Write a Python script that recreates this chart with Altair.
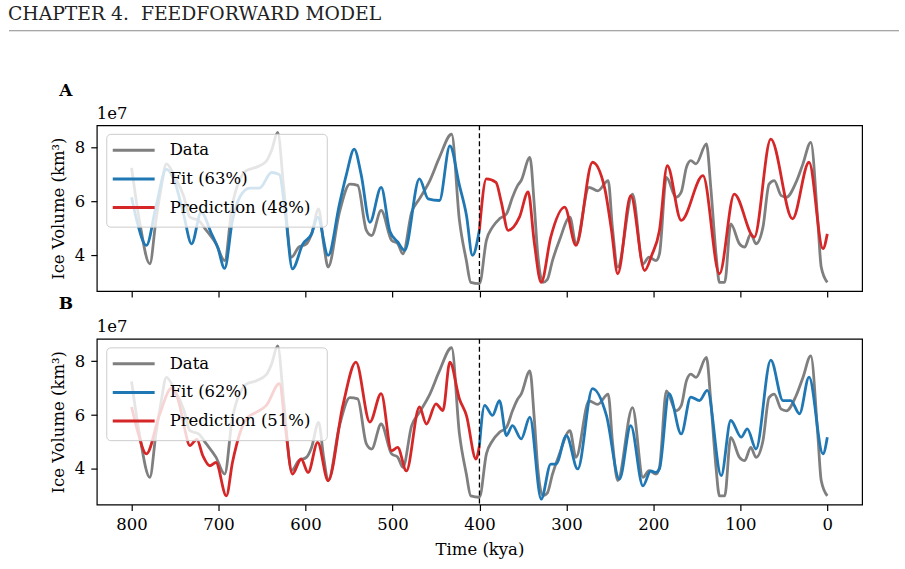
import altair as alt
import pandas as pd

# ---------------------------------------------------------------
# Ice volume record (units of 1e7 km^3) against time (kya)
# ---------------------------------------------------------------
data_t = [800, 791, 779, 772, 766, 760, 750, 740, 733, 723, 714, 703, 693,
          684, 668, 657, 645, 639, 632, 625, 616, 608, 599, 593, 585, 579,
          574, 561, 549, 540, 530, 524, 513, 501, 494, 488, 478, 469, 457,
          446, 432, 423, 415, 410, 400, 392, 385, 377, 369, 362, 356, 352,
          342, 337, 333, 327, 322, 316, 308, 296, 289, 274, 264, 252, 247,
          241, 224, 212, 205, 197, 193, 185, 174, 168, 162, 157, 151, 139,
          134, 128, 124, 118, 111, 101, 95, 88, 82, 74, 67, 61, 53, 47, 36,
          28, 19, 11, 7, 0]
data_v = [7.25, 5.3, 3.69, 5.3, 6.5, 7.4, 6.9, 6.2, 5.42, 5.3, 4.93, 4.44, 3.81,
          5.9, 7.15, 7.27, 7.5, 7.9, 8.57, 6.5, 3.94, 4.3, 4.43, 4.8, 5.73, 4.4,
          3.57, 5.6, 6.65, 6.6, 4.93, 4.74, 5.67, 4.56, 4.44, 4.06, 5.6, 6.1, 6.78,
          7.64, 8.5, 5.3, 3.8, 3.0, 2.95, 4.56, 5.05, 5.36, 5.54, 6.16, 6.6, 6.78,
          7.64, 5.9, 4.06, 3.0, 3.1, 3.81, 4.56, 5.42, 4.43, 6.53, 6.4, 6.78, 5.0,
          3.57, 6.28, 3.69, 3.94, 3.81, 4.06, 6.9, 6.16, 6.35, 7.27, 7.52, 7.4, 8.14,
          6.53, 4.06, 3.0, 3.0, 5.17, 4.43, 4.31, 4.8, 4.43, 5.05, 6.65, 6.78, 6.22, 6.16, 6.71,
          7.4, 8.2, 5.3, 3.57, 3.0]

# Panel A: model fitted on 800-400 kya, predicting 400-0 kya
fit_a_t = [800, 794, 783, 772, 760, 750, 740, 731, 720, 708, 701, 693, 684,
           675, 664, 653, 639, 630, 623, 615, 603, 593, 586, 574, 561, 553,
           544, 536, 526, 513, 503, 494, 486, 469, 459, 446, 434, 423, 415,
           408, 400]
fit_a_v = [6.16, 5.3, 4.37, 5.8, 7.2, 6.7, 5.5, 4.43, 5.6, 4.8, 4.3, 3.52, 5.3,
           6.2, 6.5, 6.5, 7.08, 7.0, 5.5, 3.5, 4.43, 4.8, 5.42, 4.0, 5.9, 7.0,
           7.95, 7.0, 5.23, 6.53, 4.9, 4.5, 4.19, 6.84, 6.1, 6.04, 8.07, 6.6, 5.5,
           4.0, 4.95]
pred_a_t = [400, 392, 381, 375, 367, 354, 344, 337, 329, 318, 302, 289, 270,
            256, 248, 241, 226, 210, 202, 193, 184, 168, 143, 124, 107, 84, 65,
            40, 21, 5, 0]
pred_a_v = [4.95, 6.84, 6.71, 6.0, 4.93, 5.42, 6.36, 4.5, 3.0, 4.68, 5.79, 4.37, 7.46,
            6.5, 4.9, 3.32, 6.22, 3.44, 4.0, 4.93, 7.33, 5.3, 6.96, 3.32, 6.28, 4.68, 8.32,
            5.36, 7.46, 4.25, 4.8]

# Panel B: model fitted on 400-0 kya, predicting 800-400 kya
pred_b_t = [800, 793, 783, 768, 754, 745, 739, 733, 725, 718, 710, 703, 691,
            684, 668, 657, 645, 630, 623, 615, 605, 597, 586, 574, 557, 542,
            526, 513, 501, 494, 484, 469, 461, 450, 442, 434, 423, 415, 404, 400]
pred_b_v = [6.3, 5.4, 4.56, 6.0, 7.0, 6.4, 5.5, 4.87, 5.1, 4.49, 4.12, 4.24, 3.0,
            4.24, 5.86, 6.1, 6.36, 7.17, 5.5, 3.81, 4.37, 3.87, 4.99, 3.56, 6.36, 7.97,
            5.74, 6.8, 4.68, 4.8, 3.93, 6.3, 5.67, 6.42, 6.17, 7.97, 6.6, 5.99, 4.37, 4.87]
fit_b_t = [400, 394, 385, 377, 369, 362, 352, 342, 329, 318, 312, 300, 287,
           270, 254, 239, 226, 212, 203, 197, 193, 182, 168, 157, 147, 138,
           122, 111, 99, 92, 82, 65, 51, 42, 32, 21, 5, 0]
fit_b_v = [4.87, 6.36, 5.99, 6.54, 5.24, 5.61, 5.12, 5.92, 2.88, 4.18, 4.18, 5.24, 4.0,
           6.98, 5.99, 3.62, 5.61, 3.37, 3.93, 3.87, 4.0, 6.8, 5.3, 6.67, 6.54, 6.92,
           3.75, 5.8, 5.18, 5.49, 4.74, 8.04, 6.54, 6.54, 6.05, 7.41, 4.56, 5.18]

data_label = "Data"
labels_a = [data_label, "Fit (63%)", "Prediction (48%)"]
labels_b = [data_label, "Fit (62%)", "Prediction (51%)"]
split_kya = [400]
x_ticks = [800, 700, 600, 500, 400, 300, 200, 100, 0]
y_ticks = [4, 6, 8]
offset_text = "1e7"
header_text = "CHAPTER 4.\u00a0 FEEDFORWARD MODEL"

GRAY, BLUE, RED = "#7f7f7f", "#1f77b4", "#d62728"
FONT = "DejaVu Serif"
FS = 16.5
W, H = 767, 166

x_scale = alt.Scale(domain=[840, -40], nice=False, zero=False)
y_scale = alt.Scale(domain=[2.68, 8.83], nice=False, zero=False)


def series_frame(t, v, label):
    return pd.DataFrame({"t": t, "v": v, "series": label})


def panel(tag, labels, fit_t, fit_v, pred_t, pred_v, bottom, header=False):
    data_df = series_frame(data_t, data_v, labels[0])
    fit_df = series_frame(fit_t, fit_v, labels[1])
    pred_df = series_frame(pred_t, pred_v, labels[2])

    color = alt.Color("series:N",
                      scale=alt.Scale(domain=labels, range=[GRAY, BLUE, RED]),
                      legend=None)
    x_axis = alt.Axis(values=x_ticks, labels=bottom, format="d",
                      title="Time (kya)" if bottom else None)
    x = alt.X("t:Q", scale=x_scale, axis=x_axis)
    y = alt.Y("v:Q", scale=y_scale,
              axis=alt.Axis(values=y_ticks, format="d", title="Ice Volume (km³)"))
    order = alt.Order("t:Q", sort="descending")

    # data first, then fit and prediction drawn over it
    layers = []
    for df in (data_df, fit_df, pred_df):
        layers.append(
            alt.Chart(df).mark_line(strokeWidth=2.8, interpolate="monotone",
                                    strokeJoin="round", strokeCap="butt")
            .encode(x=x, y=y, color=color, order=order)
        )

    # boundary between training and prediction windows
    layers.append(
        alt.Chart(pd.DataFrame({"t": split_kya})).mark_rule(
            color="black", strokeDash=[5, 3], strokeWidth=1.3
        ).encode(x=alt.X("t:Q", scale=x_scale))
    )

    # legend box in the upper-left corner
    one = pd.DataFrame({"k": [0]})
    layers.append(
        alt.Chart(one).mark_rect(fill="white", fillOpacity=0.8, stroke="#cccccc",
                                 strokeWidth=1, cornerRadius=4)
        .encode(x=alt.value(10), x2=alt.value(231), y=alt.value(9), y2=alt.value(102))
    )
    for i, lab in enumerate(labels):
        row = pd.DataFrame({"series": [lab]})
        ly = 25 + 28.7 * i
        layers.append(
            alt.Chart(row).mark_rule(strokeWidth=3)
            .encode(x=alt.value(16), x2=alt.value(58), y=alt.value(ly), color=color)
        )
        layers.append(
            alt.Chart(row).mark_text(align="left", baseline="middle", font=FONT,
                                     fontSize=FS, color="black")
            .encode(x=alt.value(73), y=alt.value(ly), text="series:N")
        )

    # panel letter and the 1e7 multiplier above the y axis
    layers.append(
        alt.Chart(pd.DataFrame({"p": [tag]})).mark_text(
            align="center", baseline="middle", font=FONT, fontSize=17,
            fontWeight="bold", color="black"
        ).encode(x=alt.value(-31), y=alt.value(-34.5), text="p:N")
    )
    layers.append(
        alt.Chart(pd.DataFrame({"o": [offset_text]})).mark_text(
            align="left", baseline="middle", font=FONT, fontSize=FS, color="black"
        ).encode(x=alt.value(0), y=alt.value(-11.5), text="o:N")
    )

    if header:
        layers.append(
            alt.Chart(pd.DataFrame({"h": [header_text]})).mark_text(
                align="left", baseline="middle", font=FONT, fontSize=18.8,
                color="#222222"
            ).encode(x=alt.value(-89), y=alt.value(-111.5), text="h:N")
        )
        layers.append(
            alt.Chart(one).mark_rule(color="#8a8a8a", strokeWidth=1.2)
            .encode(x=alt.value(-88), x2=alt.value(804), y=alt.value(-94.8))
        )
        # page extent
        layers.append(
            alt.Chart(one).mark_rule(strokeOpacity=0, strokeWidth=0)
            .encode(x=alt.value(-96), x2=alt.value(809),
                    y=alt.value(-124.3), y2=alt.value(444.7))
        )

    return alt.layer(*layers).properties(width=W, height=H)


chart_a = panel("A", labels_a, fit_a_t, fit_a_v, pred_a_t, pred_a_v,
                bottom=False, header=True)
# panel B: fit covers 400-0 kya, prediction covers 800-400 kya
chart_b = panel("B", labels_b, fit_b_t, fit_b_v, pred_b_t, pred_b_v, bottom=True)

chart = (
    alt.vconcat(chart_a, chart_b, spacing=48, bounds="flush")
    .resolve_scale(color="independent", x="independent", y="independent")
    .properties(padding=0, background="white")
    .configure_view(stroke="black", strokeWidth=1.2)
    .configure_axis(
        grid=False, domain=False,
        labelFont=FONT, labelFontSize=FS, labelColor="black",
        titleFont=FONT, titleFontSize=FS, titleFontWeight="normal", titleColor="black",
        tickColor="black", tickSize=6, tickWidth=1.2,
    )
    .configure_axisY(labelPadding=6, titlePadding=8)
    .configure_axisX(labelPadding=6, titlePadding=9)
)

chart.save("out.html", embed_options={"renderer": "svg", "actions": False})
